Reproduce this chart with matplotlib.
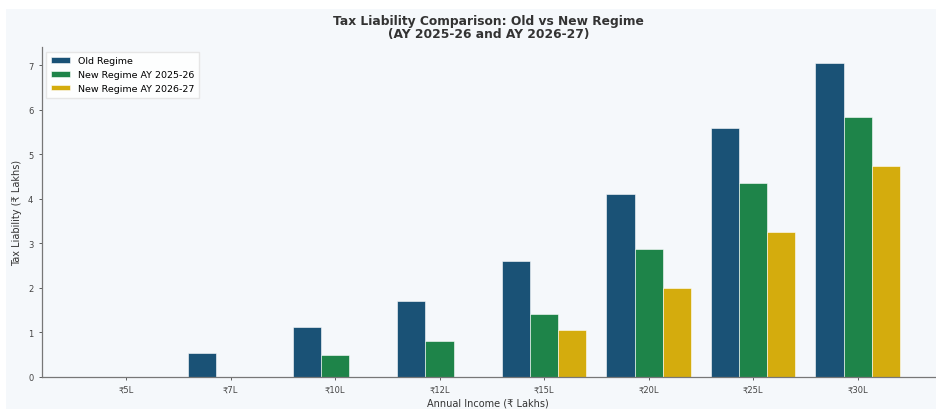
import numpy as np
import matplotlib
matplotlib.use('Agg')
import matplotlib.pyplot as plt
from matplotlib.patches import Rectangle

incomes = ['₹5L', '₹7L', '₹10L', '₹12L', '₹15L', '₹20L', '₹25L', '₹30L']
old_regime = [0, 0.52, 1.12, 1.70, 2.60, 4.10, 5.58, 7.06]
new_2526 = [0, 0, 0.49, 0.79, 1.40, 2.87, 4.35, 5.84]
new_2627 = [0, 0, 0, 0, 1.04, 1.98, 3.25, 4.74]

bg = '#f5f8fb'
fig = plt.figure(figsize=(9.36, 4.1), dpi=100, facecolor='white')
fig.patches.append(Rectangle((6/936, 0), 1, 400/410, transform=fig.transFigure,
                             facecolor=bg, edgecolor='none', zorder=-10))

ax = fig.add_axes([41.7/936, 32.5/410, 893.3/936, 329.5/410])
ax.set_facecolor(bg)

x = np.arange(len(incomes))
w = 0.27
ax.bar(x - w, old_regime, w, color='#1a5276', edgecolor='white', linewidth=0.4, label='Old Regime')
ax.bar(x, new_2526, w, color='#1e8449', edgecolor='white', linewidth=0.4, label='New Regime AY 2025-26')
ax.bar(x + w, new_2627, w, color='#d4ac0d', edgecolor='white', linewidth=0.4, label='New Regime AY 2026-27')

ax.set_xlim(-0.807, 7.74)
ax.set_xticks(x)
ax.set_xticklabels(incomes)
ax.tick_params(labelsize=6, colors='#444444', length=2.5, width=0.6)
for s in ['top', 'right']:
    ax.spines[s].set_visible(False)
for s in ['left', 'bottom']:
    ax.spines[s].set_color('#777777')
    ax.spines[s].set_linewidth(0.9)

ax.set_xlabel('Annual Income (₹ Lakhs)', fontsize=7, color='#333333', labelpad=3)
ax.set_ylabel('Tax Liability (₹ Lakhs)', fontsize=7, color='#333333', labelpad=4)
ax.set_title('Tax Liability Comparison: Old vs New Regime\n(AY 2025-26 and AY 2026-27)',
             fontsize=8.8, fontweight='bold', color='#333333', pad=7, linespacing=1.05)

ax.legend(loc='upper left', fontsize=6.8, frameon=True, framealpha=0.9,
          edgecolor='#e4e4e4', handlelength=2.0, handleheight=0.5, borderpad=0.5,
          labelspacing=0.5, fancybox=False)

fig.savefig('out.png', dpi=100, facecolor=fig.get_facecolor())
